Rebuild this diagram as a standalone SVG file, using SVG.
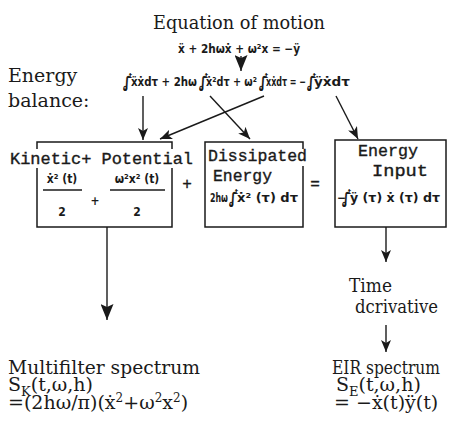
<svg xmlns="http://www.w3.org/2000/svg" width="453" height="425" viewBox="0 0 453 425">
<style>
.serif{font-family:"DejaVu Serif","Liberation Serif",serif;font-size:19px;fill:#1a1a1a}
.mono{font-family:"Liberation Mono","DejaVu Sans Mono",monospace;font-size:16px;fill:#1a1a1a;stroke:#1a1a1a;stroke-width:0.35}
.eq{font-family:"DejaVu Sans Condensed","DejaVu Sans",sans-serif;font-stretch:condensed;font-weight:bold;font-size:12px;fill:#1a1a1a}
.int{font-family:"DejaVu Sans Condensed","DejaVu Sans",sans-serif;font-weight:bold;font-size:15px;fill:#1a1a1a}
.lim{font-family:"DejaVu Sans Condensed","DejaVu Sans",sans-serif;font-weight:bold;font-size:7px;fill:#1a1a1a}
.box{fill:none;stroke:#1a1a1a;stroke-width:1.5}
.conn{fill:none;stroke:#1a1a1a;stroke-width:1.4}
.frac{stroke:#1a1a1a;stroke-width:1.3}
</style>
<defs>
<marker id="ah" viewBox="0 0 12 10" refX="12" refY="5" markerWidth="12" markerHeight="10" markerUnits="userSpaceOnUse" orient="auto">
<path d="M0,0 L12,5 L0,10 L3,5 z" fill="#1a1a1a"/>
</marker>
<marker id="big" viewBox="0 0 16 13" refX="16" refY="6.5" markerWidth="16" markerHeight="13" markerUnits="userSpaceOnUse" orient="auto">
<path d="M0,0 L16,6.5 L0,13 L3,6.5 z" fill="#1a1a1a"/>
</marker>
</defs>

<g id="title">
<text class="serif" x="153" y="29" font-size="20" textLength="172" lengthAdjust="spacingAndGlyphs">Equation of motion</text>
<text class="eq" x="178" y="53" textLength="122" lengthAdjust="spacingAndGlyphs">ẍ + 2hωẋ + ω²x = −ÿ</text>
</g>

<g id="energy-balance">
<text class="serif" x="8" y="82" font-size="20">Energy</text>
<text class="serif" x="8" y="107" font-size="20">balance:</text>
<text class="int" x="123" y="87">∫</text><text class="lim" x="129" y="78">t</text><text class="lim" x="123" y="91">0</text>
<text class="eq" x="131" y="86" textLength="66" lengthAdjust="spacingAndGlyphs">ẍẋdτ + 2hω</text>
<text class="int" x="199" y="87">∫</text><text class="lim" x="205" y="78">t</text><text class="lim" x="199" y="91">0</text>
<text class="eq" x="206" y="86" textLength="51" lengthAdjust="spacingAndGlyphs">ẋ²dτ + ω²</text>
<text class="int" x="259" y="87">∫</text><text class="lim" x="265" y="78">t</text><text class="lim" x="259" y="91">0</text>
<text class="eq" x="266" y="86" textLength="40" lengthAdjust="spacingAndGlyphs">xẋdτ = −</text>
<text class="int" x="307" y="87">∫</text><text class="lim" x="313" y="78">t</text><text class="lim" x="307" y="91">0</text>
<text class="eq" x="314" y="86" textLength="36" lengthAdjust="spacingAndGlyphs">ÿẋdτ</text>
</g>

<g id="kinetic-potential">
<path class="box" d="M37,149 V142 H172 V149 M37,168 V227 H172 V168"/>
<text class="mono" x="10" y="164" textLength="183" lengthAdjust="spacingAndGlyphs">Kinetic+ Potential</text>
<text class="eq" x="62" y="183" text-anchor="middle">ẋ² (t)</text>
<line class="frac" x1="43" y1="190" x2="82" y2="190"/>
<text class="eq" x="62" y="216" text-anchor="middle">2</text>
<text class="eq" x="95" y="205" text-anchor="middle" font-size="10">+</text>
<text class="eq" x="137" y="183" text-anchor="middle">ω²x² (t)</text>
<line class="frac" x1="110" y1="190" x2="165" y2="190"/>
<text class="eq" x="137" y="216" text-anchor="middle">2</text>
</g>

<g id="op-plus"><text class="mono" x="187" y="189" text-anchor="middle" font-size="18">+</text></g>

<g id="dissipated">
<path class="box" d="M303,149 V142 H205 V227 H303 V166"/>
<text class="mono" x="208" y="161" textLength="99" lengthAdjust="spacingAndGlyphs">Dissipated</text>
<text class="mono" x="213" y="181" textLength="59" lengthAdjust="spacingAndGlyphs">Energy</text>
<text class="eq" x="210" y="202" textLength="18" lengthAdjust="spacingAndGlyphs">2hω</text>
<text class="int" x="229" y="203">∫</text><text class="lim" x="235" y="194">t</text><text class="lim" x="229" y="207">0</text>
<text class="eq" x="237" y="202" textLength="61" lengthAdjust="spacingAndGlyphs">ẋ² (τ) dτ</text>
</g>

<g id="op-equals"><text class="mono" x="315" y="189" text-anchor="middle" font-size="18">=</text></g>

<g id="energy-input">
<rect class="box" x="335" y="140" width="111" height="87"/>
<text class="mono" x="358" y="156" textLength="60" lengthAdjust="spacingAndGlyphs">Energy</text>
<text class="mono" x="372" y="176" textLength="56" lengthAdjust="spacingAndGlyphs">Input</text>
<text class="eq" x="337" y="202">−</text>
<text class="int" x="342" y="203">∫</text><text class="lim" x="348" y="194">t</text><text class="lim" x="342" y="207">0</text>
<text class="eq" x="350" y="202" textLength="90" lengthAdjust="spacingAndGlyphs">ÿ (τ) ẋ (τ) dτ</text>
</g>

<g id="time-derivative">
<text class="serif" x="349" y="292" font-size="17" textLength="43" lengthAdjust="spacingAndGlyphs">Time</text>
<text class="serif" x="355" y="313" font-size="17" textLength="83" lengthAdjust="spacingAndGlyphs">dcrivative</text>
</g>

<g id="multifilter">
<text class="serif" x="8" y="374" textLength="192" lengthAdjust="spacingAndGlyphs">Multifilter spectrum</text>
<text class="serif" x="8" y="391">S<tspan font-size="13" dy="5">K</tspan><tspan dy="-5">(t,ω,h)</tspan></text>
<text class="serif" x="8" y="409">=(2hω/π)(ẋ<tspan font-size="12" dy="-7">2</tspan><tspan dy="7">+ω</tspan><tspan font-size="12" dy="-7">2</tspan><tspan dy="7">x</tspan><tspan font-size="12" dy="-7">2</tspan><tspan dy="7">)</tspan></text>
</g>

<g id="eir">
<text class="serif" x="332" y="374" font-size="16" textLength="108" lengthAdjust="spacingAndGlyphs">EIR spectrum</text>
<text class="serif" x="336" y="391">S<tspan font-size="13" dy="5">E</tspan><tspan dy="-5">(t,ω,h)</tspan></text>
<text class="serif" x="334" y="409">= −ẋ(t)ÿ(t)</text>
</g>

<g id="connectors">
<line class="conn" x1="241" y1="56" x2="241" y2="71" marker-end="url(#big)"/>
<line class="conn" x1="143" y1="96" x2="143" y2="140" marker-end="url(#ah)"/>
<line class="conn" x1="264" y1="96" x2="160" y2="139" marker-end="url(#ah)"/>
<line class="conn" x1="210" y1="96" x2="250" y2="139" marker-end="url(#ah)"/>
<line class="conn" x1="336" y1="96" x2="358" y2="139" marker-end="url(#ah)"/>
<line class="conn" x1="107" y1="227" x2="107" y2="320" marker-end="url(#big)"/>
<line class="conn" x1="386" y1="227" x2="386" y2="262" marker-end="url(#ah)"/>
<line class="conn" x1="386" y1="325" x2="386" y2="352" marker-end="url(#ah)"/>
</g>
</svg>
